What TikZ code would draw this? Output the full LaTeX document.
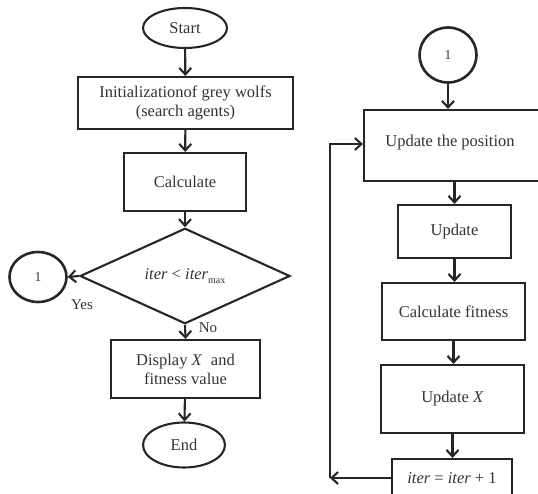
\documentclass[tikz,border=0pt]{standalone}
\usepackage{fontspec}
\setmainfont{Liberation Serif}
\usetikzlibrary{shapes.geometric,arrows.meta}
\begin{document}
\begin{tikzpicture}[x=1pt,y=-1pt,
  line width=2.1pt, draw={black!85},
  every node/.style={font=\fontsize{16.5}{19}\selectfont, text={black!80}},
  box/.style={draw, rectangle, inner sep=0pt, align=center},
  term/.style={draw, ellipse, inner sep=0pt},
  conn/.style={draw, ellipse, inner sep=0pt, line width=2.6pt, font=\fontsize{13.5}{15}\selectfont},
  dec/.style={draw, diamond, inner sep=0pt},
  arr/.style={-{Straight Barb[length=6.5pt,width=12pt,line width=2.1pt]}},
  lbl/.style={font=\fontsize{15}{17}\selectfont}
]
\clip (0,0) rectangle (538,494);
% left column
\node[term, minimum width=84pt, minimum height=40pt] (start) at (185,28) {Start};
\node[box, minimum width=215pt, minimum height=52pt] (init) at (185.5,103) {Initializationof grey wolfs\\(search agents)};
\node[box, minimum width=122pt, minimum height=58pt] (calc) at (185,182) {Calculate};
\node[dec, minimum width=210pt, minimum height=75pt] (cond) at (185,276) {\textit{iter} < \textit{iter}\raisebox{-0.5ex}{\fontsize{10}{11}\selectfont max}};
\node[conn, minimum width=57pt, minimum height=50pt] (c1l) at (38,277) {1};
\node[box, minimum width=149pt, minimum height=58pt] (disp) at (185.5,369) {Display \textit{X}\; and\\fitness value};
\node[term, minimum width=82pt, minimum height=45pt] (end) at (184,445) {End};
\node[lbl] (yes) at (82,305) {Yes};
\node[lbl] (no) at (208,328) {No};

\draw[arr] (start) -- (init);
\draw[arr] (init) -- (calc);
\draw[arr] (calc) -- (cond);
\draw[arr] (cond.west) -- (c1l.east);
\draw[arr] (cond.south) -- (disp.north);
\draw[arr] (disp) -- (end);

% right column
\node[conn, minimum width=57pt, minimum height=55pt] (c1r) at (448,55) {1};
\node[box, minimum width=181pt, minimum height=71pt] (pos) at (454.5,145.5) {};
\node (postext) at (450,143) {Update the position};
\node[box, minimum width=113pt, minimum height=53pt] (upd) at (454.5,231.5) {Update};
\node[box, minimum width=143pt, minimum height=57pt] (fit) at (453.5,311.5) {Calculate fitness};
\node[box, minimum width=143pt, minimum height=68pt] (updx) at (452.5,399) {Update \textit{X}};
\node[box, minimum width=120pt, minimum height=38pt] (iterb) at (452,478) {\textit{iter} = \textit{iter} + 1};
\coordinate (lb) at (330,478);
\coordinate (lt) at (330,144);

\draw[arr] (c1r.south) -- (c1r.south |- pos.north);
\draw[arr] (upd.north |- pos.south) -- (upd.north);
\draw[arr] (upd.south) -- (upd.south |- fit.north);
\draw[arr] (fit.south) -- (fit.south |- updx.north);
\draw[arr] (updx.south) -- (updx.south |- iterb.north);
\draw[arr] (iterb.west) -- (lb);
\draw[arr] (lb) -- (lt) -- (lt -| pos.west);
\end{tikzpicture}
\end{document}
